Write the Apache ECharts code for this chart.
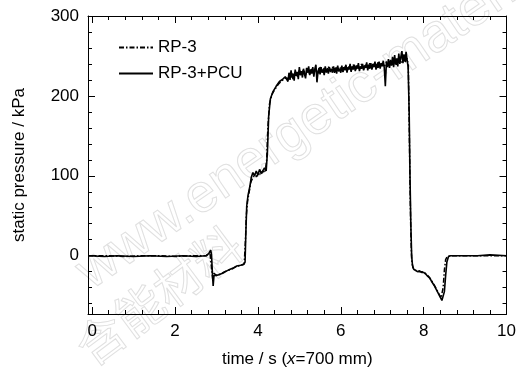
<!DOCTYPE html>
<html><head><meta charset="utf-8">
<script src="https://cdn.jsdelivr.net/npm/echarts@6/dist/echarts.min.js"></script>
<style>html,body{margin:0;padding:0;background:#fff}#c{width:519px;height:373px}</style>
</head><body><div id="c"></div>
<script>
const seriesNames = ['RP-3', 'RP-3+PCU'];
const xMajorTicks = [0, 2, 4, 6, 8, 10];
const xMinorTicks = [0.4,0.8,1.2,1.6,2.4,2.8,3.2,3.6,4.4,4.8,5.2,5.6,6.4,6.8,7.2,7.6,8.4,8.8,9.2,9.6];
const yMajorTicks = [0, 100, 200, 300];
const yMinorTicks = [-60,-40,-20,20,40,60,80,120,140,160,180,220,240,260,280];

const rp3 = [[-0.1,0],[0.4,0],[0.8,-1],[1.2,0],[1.6,0],[2.0,-1],[2.4,0],[2.76,0],[2.84,5],[2.88,3],[2.91,-30],[2.94,-22],[3.0,-25],[3.1,-23],[3.2,-20],[3.3,-18],[3.4,-16],[3.5,-13],[3.6,-12],[3.67,-10],[3.70,20],[3.72,50],[3.75,68],[3.79,80],[3.83,92],[3.87,97],[3.92,101],[3.97,99],[4.02,104],[4.07,101],[4.12,106],[4.17,104],[4.21,118],[4.24,160],[4.28,190],[4.34,202],[4.42,209],[4.50,215],[4.58,219],[4.66,222],[4.75,222],[4.80,228],[4.85,221],[4.90,230],[4.95,224],[5.00,232],[5.05,225],[5.10,233],[5.15,226],[5.20,234],[5.25,227],[5.30,235],[5.35,228],[5.40,234],[5.45,227],[5.50,236],[5.55,229],[5.60,235],[5.65,228],[5.70,237],[5.75,230],[5.80,236],[5.85,229],[5.90,237],[5.95,231],[6.00,236],[6.05,230],[6.10,238],[6.15,231],[6.20,237],[6.25,232],[6.30,239],[6.35,232],[6.40,238],[6.45,233],[6.50,240],[6.55,233],[6.60,239],[6.65,234],[6.70,241],[6.75,234],[6.80,240],[6.85,235],[6.90,242],[6.95,236],[7.00,241],[7.05,236],[7.10,243],[7.15,237],[7.20,245],[7.25,238],[7.30,247],[7.35,239],[7.40,249],[7.45,241],[7.50,250],[7.55,242],[7.60,247],[7.63,238],[7.65,170],[7.67,90],[7.69,30],[7.71,-5],[7.74,-15],[7.80,-18],[7.88,-20],[7.96,-20],[8.04,-22],[8.12,-26],[8.20,-32],[8.28,-39],[8.36,-47],[8.42,-53],[8.45,-55],[8.47,-40],[8.50,-18],[8.53,-5],[8.57,-1],[8.7,0],[9.2,0],[9.6,0],[10,0]];

const rp3pcu = [[-0.1,0],[0.3,-1],[0.6,0],[1.0,-1],[1.4,0],[1.8,-1],[2.2,0],[2.5,-1],[2.75,0],[2.82,3],[2.86,7],[2.88,2],[2.90,-20],[2.92,-38],[2.94,-25],[2.97,-23],[3.05,-24],[3.15,-22],[3.25,-19],[3.33,-17],[3.42,-15],[3.49,-13],[3.58,-12],[3.66,-11],[3.69,-8],[3.71,30],[3.73,62],[3.76,75],[3.80,85],[3.84,98],[3.88,104],[3.92,100],[3.96,106],[4.00,101],[4.04,108],[4.08,103],[4.12,104],[4.16,110],[4.20,106],[4.23,130],[4.26,175],[4.30,196],[4.36,205],[4.44,212],[4.52,218],[4.60,221],[4.66,224],
[4.700,226],[4.725,218],[4.750,229],[4.775,220],[4.800,232],[4.825,223],[4.850,228],[4.875,219],[4.900,233],[4.925,225],[4.950,230],[4.975,221],[5.000,236],[5.025,226],[5.050,231],[5.075,223],[5.100,234],[5.125,227],[5.150,222],[5.175,235],[5.200,229],[5.225,237],[5.250,226],[5.275,233],[5.300,228],[5.325,236],[5.350,224],[5.375,234],[5.400,239],[5.425,217],[5.450,230],[5.475,235],[5.500,227],[5.525,236],[5.550,229],[5.575,233],[5.600,226],[5.625,237],[5.650,230],[5.675,234],[5.700,228],[5.725,236],[5.750,231],[5.775,234],[5.800,229],[5.825,237],[5.850,230],[5.875,235],[5.900,228],[5.925,238],[5.950,231],[5.975,234],[6.000,229],[6.025,238],[6.050,230],[6.075,236],[6.100,232],[6.125,239],[6.150,229],[6.175,236],[6.200,233],[6.225,240],[6.250,230],[6.275,237],[6.300,233],[6.325,239],[6.350,231],[6.375,238],[6.400,234],[6.425,241],[6.450,231],[6.475,237],[6.500,234],[6.525,240],[6.550,232],[6.575,238],[6.600,235],[6.625,242],[6.650,232],[6.675,239],[6.700,234],[6.725,241],[6.750,233],[6.775,240],[6.800,236],[6.825,243],[6.850,233],[6.875,240],[6.900,235],[6.925,243],[6.950,234],[6.975,241],[7.000,237],[7.025,244],[7.050,235],[7.075,212],[7.100,241],[7.125,236],[7.150,246],[7.175,235],[7.200,244],[7.225,238],[7.250,249],[7.275,236],[7.300,251],[7.325,239],[7.350,247],[7.375,237],[7.400,253],[7.425,240],[7.450,249],[7.475,256],[7.500,241],[7.525,252],[7.550,243],[7.575,255],[7.600,245],[7.625,236],
[7.65,180],[7.67,100],[7.69,40],[7.71,0],[7.73,-12],[7.76,-17],[7.80,-19],[7.85,-20],[7.90,-19],[7.95,-21],[8.00,-21],[8.05,-23],[8.10,-26],[8.15,-28],[8.20,-33],[8.25,-37],[8.30,-42],[8.35,-47],[8.40,-52],[8.44,-56],[8.47,-57],[8.50,-45],[8.53,-25],[8.56,-8],[8.60,-1],[8.65,0],[9.0,0],[9.3,0],[9.6,1],[10,0]];

const FONT = "'Liberation Sans Narrow','Arial Narrow','Liberation Sans',Arial,sans-serif";
const X_MIN = -0.1, X_MAX = 10, Y_MIN = -73, Y_MAX = 300;

function mkAxis(range, pos, ticks, len, labels, line) {
  return {
    type: 'value', min: range[0], max: range[1], position: pos,
    axisLine: { show: line, onZero: false, lineStyle: { color: '#000', width: 1 } },
    axisTick: { show: true, inside: true, length: len, customValues: ticks, lineStyle: { color: '#000', width: 1 } },
    axisLabel: labels ? { show: true, customValues: ticks, color: '#000', fontSize: 17, fontFamily: FONT, margin: 9 } : { show: false },
    splitLine: { show: false }
  };
}
const XR = [X_MIN, X_MAX], YR = [Y_MIN, Y_MAX];
const xAxes = [mkAxis(XR, 'bottom', xMajorTicks, 7, true, true), mkAxis(XR, 'bottom', xMinorTicks, 4, false, false),
               mkAxis(XR, 'top', xMajorTicks, 7, false, true), mkAxis(XR, 'top', xMinorTicks, 4, false, false)];
xAxes[0].name = '{a|time / s (}{i|x}{a|=700 mm)}';
xAxes[0].nameLocation = 'middle';
xAxes[0].nameGap = 37;
xAxes[0].nameTextStyle = { rich: { a: { fontSize: 17, fontFamily: FONT, color: '#000' }, i: { fontSize: 17, fontFamily: FONT, color: '#000', fontStyle: 'italic' } } };

const yAxes = [mkAxis(YR, 'left', yMajorTicks, 7, true, true), mkAxis(YR, 'left', yMinorTicks, 4, false, false),
               mkAxis(YR, 'right', yMajorTicks, 7, false, true), mkAxis(YR, 'right', yMinorTicks, 4, false, false)];
yAxes[0].name = 'static pressure / kPa';
yAxes[0].nameLocation = 'middle';
yAxes[0].nameGap = 60;
yAxes[0].nameTextStyle = { fontSize: 17, fontFamily: FONT, color: '#000' };

const chart = echarts.init(document.getElementById('c'), null, { renderer: 'canvas' });
chart.setOption({
  animation: false,
  backgroundColor: '#fff',
  grid: { left: 88, top: 16, width: 427, height: 302, containLabel: false },
  xAxis: xAxes,
  yAxis: yAxes,
  legend: {
    data: seriesNames, orient: 'vertical', left: 113, top: 34,
    itemWidth: 34, itemHeight: 14, itemGap: 9,
    itemStyle: { opacity: 0 },
    textStyle: { fontSize: 17, fontFamily: FONT, color: '#000' }
  },
  graphic: [
    { type: 'text', x: 98, y: 300, rotation: 0.6, z: -10, silent: true,
      style: { text: 'www.energetic-materials.org.cn', font: '54px "Liberation Sans"', fill: 'rgba(255,255,255,0)', stroke: '#e0e0e0', lineWidth: 1, verticalAlign: 'bottom' } },
    { type: 'text', x: 96, y: 372, rotation: 0.64, z: -10, silent: true,
      style: { text: '含能材料', font: '48px "Noto Sans CJK SC"', fill: 'rgba(255,255,255,0)', stroke: '#e0e0e0', lineWidth: 1, verticalAlign: 'bottom' } }
  ],
  series: [
    { name: seriesNames[0], type: 'line', data: rp3, symbol: 'none', xAxisIndex: 0, yAxisIndex: 0,
      lineStyle: { color: '#000', width: 1.5, type: [5, 2, 1.5, 2] }, itemStyle: { color: '#000' }, z: 3 },
    { name: seriesNames[1], type: 'line', data: rp3pcu, symbol: 'none', xAxisIndex: 0, yAxisIndex: 0,
      lineStyle: { color: '#000', width: 1.6, type: 'solid' }, itemStyle: { color: '#000' }, z: 4 }
  ]
});
</script></body></html>
